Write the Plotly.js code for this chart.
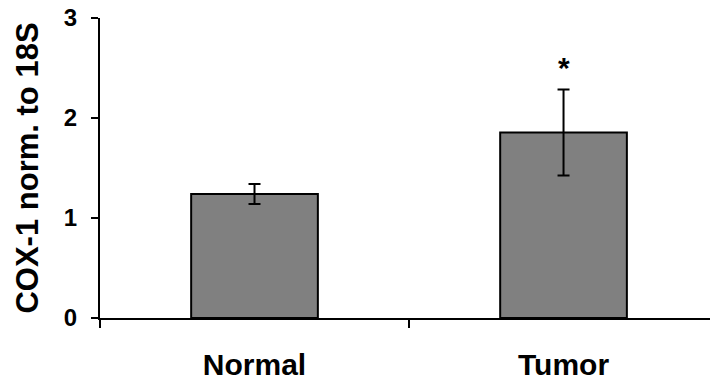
<!DOCTYPE html>
<html>
<head>
<meta charset="utf-8">
<script src="https://cdn.plot.ly/plotly-3.0.1.min.js"></script>
<style>html,body{margin:0;padding:0;background:#fff;}#chart{width:710px;height:383px;}</style>
</head>
<body>
<div id="chart"></div>
<script>
const categories = ["Normal", "Tumor"];
const values = [1.24, 1.855];
const errors = [0.10, 0.43];
const significance = ["", "*"];
const yTicks = [0, 1, 2, 3];
const yTitle = "COX-1 norm. to 18S";

const FONT = "Liberation Sans, Arial, sans-serif";

const trace = {
  type: "bar",
  x: categories,
  y: values,
  width: 0.41,
  marker: {color: "#808080", line: {color: "#000", width: 2}},
  error_y: {type: "data", array: errors, visible: true, color: "#000", thickness: 2, width: 6},
  hoverinfo: "none"
};

const annotations = categories.map((c, i) => ({
  x: c, y: values[i] + errors[i], xref: "x", yref: "y",
  text: significance[i], showarrow: false, yanchor: "bottom", yshift: 4,
  font: {family: FONT, size: 30, color: "#000", weight: "bold"}
})).filter(a => a.text);

const layout = {
  width: 710, height: 383,
  margin: {l: 100, r: 0, t: 18, b: 64.5},
  paper_bgcolor: "#fff", plot_bgcolor: "#fff",
  showlegend: false,
  font: {family: FONT, color: "#000"},
  xaxis: {
    type: "category",
    range: [-0.5, 1.474],
    tickson: "boundaries",
    ticks: "outside", ticklen: 8, tickwidth: 2, tickcolor: "#000",
    showline: true, linecolor: "#000", linewidth: 2,
    showgrid: false, zeroline: false,
    ticklabelstandoff: 19,
    tickfont: {family: FONT, size: 30, color: "#000", weight: "bold"}
  },
  yaxis: {
    range: [0, 3],
    tickvals: yTicks,
    ticks: "outside", ticklen: 7, tickwidth: 2, tickcolor: "#000",
    showline: true, linecolor: "#000", linewidth: 2,
    showgrid: false, zeroline: false,
    ticklabelstandoff: 9,
    tickfont: {family: FONT, size: 24, color: "#000", weight: "bold"},
    title: {text: yTitle, standoff: 16, font: {family: FONT, size: 31, color: "#000", weight: "bold"}}
  },
  annotations: annotations
};

Plotly.newPlot("chart", [trace], layout, {staticPlot: true, displayModeBar: false});
</script>
</body>
</html>
